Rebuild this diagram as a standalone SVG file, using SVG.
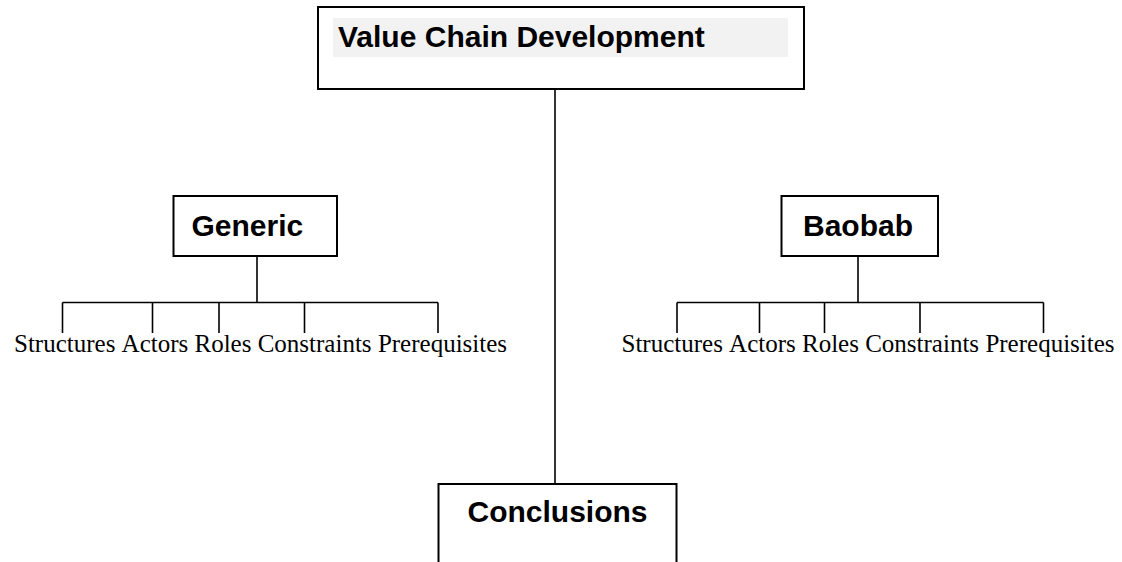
<svg xmlns="http://www.w3.org/2000/svg" width="1122" height="562" viewBox="0 0 1122 562">
  <style>
    .box { fill: #ffffff; stroke: #000000; stroke-width: 2; }
    .title { font-family: "Liberation Sans", Arial, sans-serif; font-weight: bold; font-size: 30px; fill: #000000; }
    .leaf { font-family: "Liberation Serif", "Times New Roman", serif; font-size: 25px; fill: #000000; }
    .conn { stroke: #000000; stroke-width: 1.6; fill: none; }
  </style>
  <rect width="1122" height="562" fill="#ffffff"/>

  <!-- connectors -->
  <g id="connectors">
    <!-- trunk from the top box down to Conclusions -->
    <line class="conn" x1="555" y1="89" x2="555" y2="484"/>
    <!-- Generic branch -->
    <line class="conn" x1="257" y1="256" x2="257" y2="302.5"/>
    <line class="conn" x1="62.5" y1="302.5" x2="438" y2="302.5"/>
    <line class="conn" x1="62.5" y1="302.5" x2="62.5" y2="333"/>
    <line class="conn" x1="152.5" y1="302.5" x2="152.5" y2="333"/>
    <line class="conn" x1="219" y1="302.5" x2="219" y2="333"/>
    <line class="conn" x1="304.5" y1="302.5" x2="304.5" y2="333"/>
    <line class="conn" x1="438" y1="302.5" x2="438" y2="333"/>
    <!-- Baobab branch -->
    <line class="conn" x1="858" y1="256" x2="858" y2="302.5"/>
    <line class="conn" x1="677" y1="302.5" x2="1043.5" y2="302.5"/>
    <line class="conn" x1="677" y1="302.5" x2="677" y2="333"/>
    <line class="conn" x1="759.5" y1="302.5" x2="759.5" y2="333"/>
    <line class="conn" x1="824.5" y1="302.5" x2="824.5" y2="333"/>
    <line class="conn" x1="920" y1="302.5" x2="920" y2="333"/>
    <line class="conn" x1="1043.5" y1="302.5" x2="1043.5" y2="333"/>
  </g>

  <g id="value-chain-development">
    <rect class="box" x="318" y="7" width="486" height="82"/>
    <rect x="333" y="18" width="455" height="39" fill="#f2f2f2"/>
    <text class="title" x="338" y="46.5">Value Chain Development</text>
  </g>

  <g id="generic">
    <rect class="box" x="173.5" y="196" width="163.5" height="60"/>
    <text class="title" x="191.5" y="236">Generic</text>
  </g>

  <g id="baobab">
    <rect class="box" x="781.5" y="196" width="156.5" height="60"/>
    <text class="title" x="803" y="236">Baobab</text>
  </g>

  <g id="conclusions">
    <rect class="box" x="438.5" y="484" width="238" height="100"/>
    <text class="title" x="557.5" y="521.5" text-anchor="middle">Conclusions</text>
  </g>

  <g id="generic-items">
    <text class="leaf" x="14" y="352">Structures</text>
    <text class="leaf" x="121.6" y="352">Actors</text>
    <text class="leaf" x="194.5" y="352">Roles</text>
    <text class="leaf" x="257.7" y="352">Constraints</text>
    <text class="leaf" x="377.9" y="352">Prerequisites</text>
  </g>

  <g id="baobab-items">
    <text class="leaf" x="621.5" y="352">Structures</text>
    <text class="leaf" x="729.1" y="352">Actors</text>
    <text class="leaf" x="802" y="352">Roles</text>
    <text class="leaf" x="865.2" y="352">Constraints</text>
    <text class="leaf" x="985.4" y="352">Prerequisites</text>
  </g>
</svg>
